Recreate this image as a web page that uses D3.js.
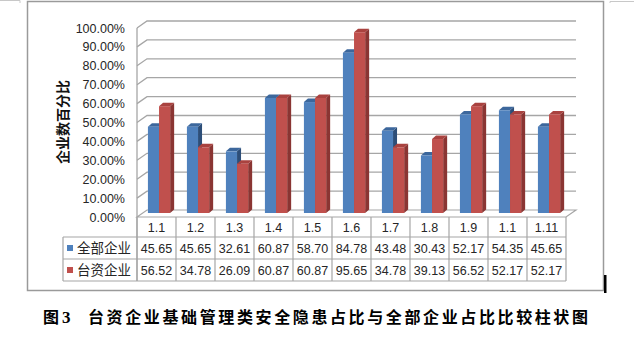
<!DOCTYPE html>
<html><head><meta charset="utf-8">
<script src="https://cdn.jsdelivr.net/npm/d3@7"></script>
<style>body{margin:0;background:#fff}svg{display:block}</style>
</head><body>
<script>
const categories = ["1.1","1.2","1.3","1.4","1.5","1.6","1.7","1.8","1.9","1.1","1.11"];
const seriesNames = ["全部企业","台资企业"];
const allValues = [45.65,45.65,32.61,60.87,58.70,84.78,43.48,30.43,52.17,54.35,45.65];
const taiValues = [56.52,34.78,26.09,60.87,60.87,95.65,34.78,39.13,56.52,52.17,52.17];
const yTicks = [0,10,20,30,40,50,60,70,80,90,100];
const caption = "台资企业基础管理类安全隐患占比与全部企业占比比较柱状图";

const W=634,H=337;
const svg=d3.select("body").append("svg").attr("width",W).attr("height",H);
svg.append("rect").attr("width",W).attr("height",H).attr("fill","#fff");

const colors={front:["#4f81bd","#c0504d"],top:["#3c679c","#a9423f"],side:["#2d4e78","#8a3533"]};
const series=[allValues,taiValues];

// decorative corner lines
svg.append("path").attr("d","M0,0.5H20V3").attr("stroke","#c8c8c8").attr("fill","none");
svg.append("path").attr("d","M610,3V1.5H634").attr("stroke","#c8c8c8").attr("fill","none");
// outer frame
svg.append("rect").attr("x",27.5).attr("y",1.5).attr("width",576).attr("height",289)
  .attr("fill","none").attr("stroke","#9a9a9a").attr("stroke-width",1.5);
svg.append("rect").attr("x",604).attr("y",275).attr("width",2.5).attr("height",18).attr("fill","#000");

const idx=d3.range(categories.length);
const x0=d3.scaleBand().domain(idx).range([137,566]);
const x1=d3.scaleBand().domain([0,1]).range([x0.bandwidth()*0.28,x0.bandwidth()*0.85]);
const y=d3.scaleLinear().domain([0,100]).range([217,28]);     // front of walls
const yb=d3.scaleLinear().domain([0,100]).range([213,24]);    // bar front faces
const wdx=10,wdy=7, bdx=4, bdy=3.5;
const gridC="#a6a6a6";

// floor
svg.append("path").attr("d",`M137,217L${137+wdx},${217-wdy}H${566+wdx}L566,217Z`)
  .attr("fill","#fff").attr("stroke",gridC).attr("stroke-width",1.2);
// gridlines
yTicks.forEach(t=>{
  if(t===0) return;
  const yy=y(t);
  svg.append("path").attr("d",`M137,${yy}L${137+wdx},${yy-wdy}H${566+wdx}`)
    .attr("fill","none").attr("stroke",gridC).attr("stroke-width",1.3);
});
svg.append("line").attr("x1",137).attr("x2",137).attr("y1",y(100)).attr("y2",281)
  .attr("stroke",gridC).attr("stroke-width",1.3);

// y axis labels
const yAxis=d3.axisLeft(y).tickValues(yTicks).tickSize(0).tickPadding(0).tickFormat(d=>d.toFixed(2)+"%");
const ga=svg.append("g").attr("transform","translate(125,0)").call(yAxis);
ga.select(".domain").remove();
ga.selectAll("text").attr("font-family","Liberation Sans").attr("font-size",12.5).attr("fill","#262626");

svg.append("text").attr("transform","translate(68,122) rotate(-90)").attr("text-anchor","middle")
  .attr("font-family","Noto Sans CJK SC").attr("font-weight","bold").attr("font-size",14).attr("fill","#111")
  .text("企业数百分比");

// bars
idx.forEach(i=>{
  [0,1].forEach(s=>{
    const v=series[s][i];
    const bx=x0(i)+x1(s), w=x1.bandwidth(), yt=yb(v), y0=yb(0);
    const g=svg.append("g");
    g.append("path").attr("d",`M${bx+w},${y0}V${yt}L${bx+w+bdx},${yt-bdy}V${y0-bdy}Z`).attr("fill",colors.side[s]);
    g.append("path").attr("d",`M${bx},${yt}L${bx+bdx},${yt-bdy}H${bx+w+bdx}L${bx+w},${yt}Z`).attr("fill",colors.top[s]);
    g.append("rect").attr("x",bx).attr("y",yt).attr("width",w).attr("height",y0-yt).attr("fill",colors.front[s]);
  });
});

// data table
const tc="#a6a6a6";
[237,259,281].forEach(yy=>svg.append("line").attr("x1",63).attr("x2",566).attr("y1",yy).attr("y2",yy).attr("stroke",tc).attr("stroke-width",1.2));
svg.append("line").attr("x1",63).attr("x2",63).attr("y1",237).attr("y2",281).attr("stroke",tc).attr("stroke-width",1.2);
idx.concat([categories.length]).forEach(i=>{
  const xx= i<categories.length? x0(i): x0(i-1)+x0.bandwidth();
  svg.append("line").attr("x1",xx).attr("x2",xx).attr("y1",217).attr("y2",281).attr("stroke",tc).attr("stroke-width",1.2);
});
idx.forEach(i=>{
  const cx=x0(i)+x0.bandwidth()/2;
  svg.append("text").attr("x",cx).attr("y",227).attr("dy","0.36em").attr("text-anchor","middle")
    .attr("font-family","Liberation Sans").attr("font-size",12.5).attr("fill","#262626").text(categories[i]);
  [0,1].forEach(s=>{
    svg.append("text").attr("x",cx).attr("y",248+22*s).attr("dy","0.36em").attr("text-anchor","middle")
      .attr("font-family","Liberation Sans").attr("font-size",12.5).attr("fill","#262626").text(series[s][i].toFixed(2));
  });
});
seriesNames.forEach((n,s)=>{
  svg.append("rect").attr("x",67).attr("y",245+22*s).attr("width",6).attr("height",6).attr("fill",colors.front[s]);
  svg.append("text").attr("x",77).attr("y",248+22*s).attr("dy","0.36em")
    .attr("font-family","Noto Sans CJK SC").attr("font-size",13.5).attr("fill","#262626").text(n);
});

// caption
svg.append("text").attr("x",43).attr("y",323).attr("font-family","Noto Sans CJK SC").attr("font-weight","bold")
  .attr("font-size",16).attr("fill","#000").text("图");
svg.append("text").attr("x",62).attr("y",323).attr("font-family","Liberation Serif").attr("font-weight","bold")
  .attr("font-size",17).attr("fill","#000").text("3");
svg.append("text").attr("x",88).attr("y",323).attr("font-family","Noto Sans CJK SC").attr("font-weight","bold")
  .attr("font-size",16).attr("fill","#000").attr("textLength",500).attr("lengthAdjust","spacing").text(caption);
</script>
</body></html>
